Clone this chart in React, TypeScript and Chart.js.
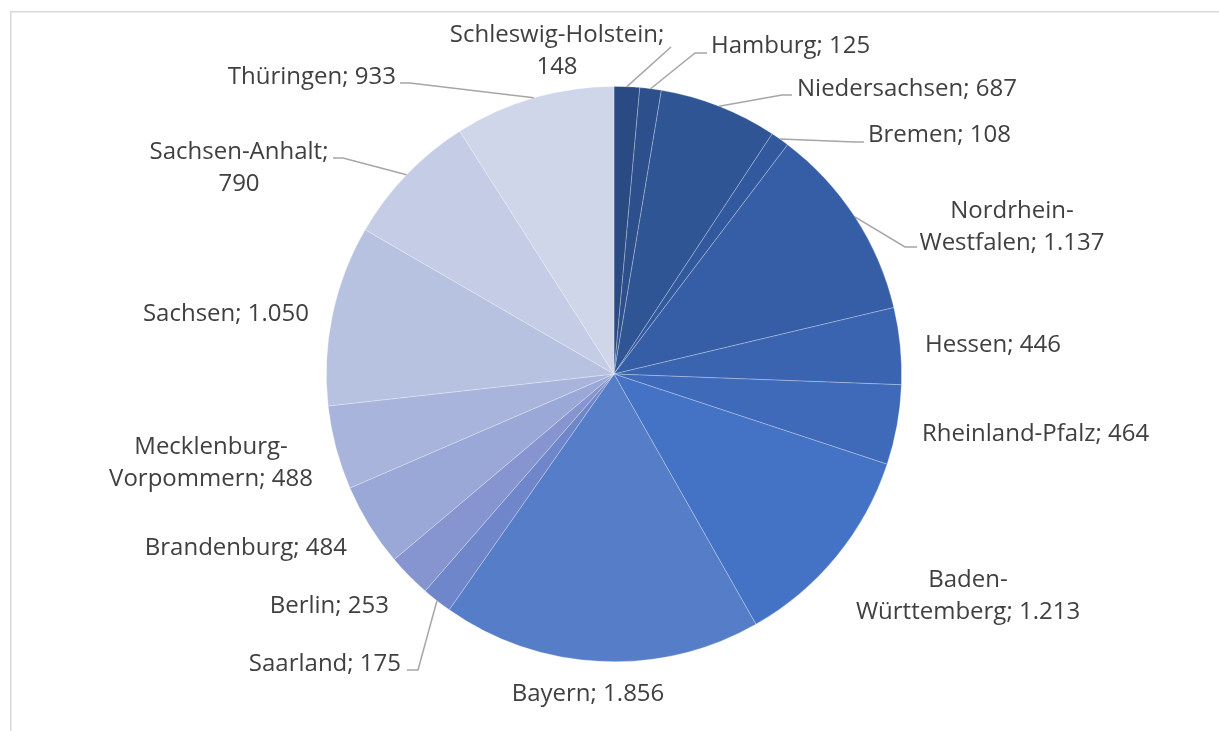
import React, { useEffect, useRef } from 'react';
import { Chart, registerables } from 'chart.js';

Chart.register(...registerables);

const categories = [
  'Schleswig-Holstein', 'Hamburg', 'Niedersachsen', 'Bremen', 'Nordrhein-Westfalen',
  'Hessen', 'Rheinland-Pfalz', 'Baden-Württemberg', 'Bayern', 'Saarland', 'Berlin',
  'Brandenburg', 'Mecklenburg-Vorpommern', 'Sachsen', 'Sachsen-Anhalt', 'Thüringen',
];
const values = [148, 125, 687, 108, 1137, 446, 464, 1213, 1856, 175, 253, 484, 488, 1050, 790, 933];
const colors = [
  '#2a4a84', '#2d4f8c', '#305595', '#32599e', '#365ea7', '#3b64b0', '#3f69b9', '#4472c4',
  '#557dc8', '#6f87ca', '#8695cf', '#9aa8d7', '#a9b4dc', '#b7c2e1', '#c5cce6', '#d0d6ea',
];

type Pt = [number, number];
type LabelLayout = { x: number; y: number; align: CanvasTextAlign; brk?: 'hyphen' | 'semi'; elbow?: Pt[] };

const labelLayout: LabelLayout[] = [
  { x: 557, y: 42, align: 'center', brk: 'semi', elbow: [[671, 47]] },
  { x: 711, y: 53, align: 'left', elbow: [[707, 53], [695, 53]] },
  { x: 797, y: 96, align: 'left', elbow: [[792, 95], [782, 95]] },
  { x: 868, y: 142, align: 'left', elbow: [[864, 142], [855, 142]] },
  { x: 1012, y: 218, align: 'center', brk: 'hyphen', elbow: [[917, 247], [905, 247]] },
  { x: 925, y: 352, align: 'left' },
  { x: 922, y: 441, align: 'left' },
  { x: 968, y: 587, align: 'center', brk: 'hyphen' },
  { x: 588, y: 701, align: 'center' },
  { x: 401, y: 671, align: 'right', elbow: [[407, 670], [418, 670]] },
  { x: 389, y: 613, align: 'right' },
  { x: 347, y: 555, align: 'right' },
  { x: 211, y: 454, align: 'center', brk: 'hyphen' },
  { x: 309, y: 321, align: 'right' },
  { x: 239, y: 159, align: 'center', brk: 'semi', elbow: [[333, 158], [343, 158]] },
  { x: 396, y: 84, align: 'right', elbow: [[400, 83], [410, 83]] },
];

const LINE_HEIGHT = 32;
const FONT = '24px "Open Sans", sans-serif';

function fmt(v: number): string {
  if (v >= 1000) return `${Math.floor(v / 1000)}.${String(v % 1000).padStart(3, '0')}`;
  return String(v);
}

function labelLines(i: number): string[] {
  const name = categories[i];
  const val = fmt(values[i]);
  const brk = labelLayout[i].brk;
  if (brk === 'semi') return [`${name};`, val];
  if (brk === 'hyphen') {
    const k = name.indexOf('-');
    return [name.slice(0, k + 1), `${name.slice(k + 1)}; ${val}`];
  }
  return [`${name}; ${val}`];
}

const framePlugin = {
  id: 'frame',
  beforeDraw(chart: any) {
    const ctx = chart.ctx;
    ctx.save();
    ctx.fillStyle = '#ffffff';
    ctx.fillRect(0, 0, chart.width, chart.height);
    ctx.strokeStyle = '#d9d9d9';
    ctx.lineWidth = 1.5;
    ctx.strokeRect(10.75, 11.75, chart.width + 20, chart.height + 20);
    ctx.restore();
  },
};

const labelPlugin = {
  id: 'pieLabels',
  afterDatasetsDraw(chart: any) {
    const ctx = chart.ctx;
    const meta = chart.getDatasetMeta(0);
    ctx.save();
    meta.data.forEach((arc: any, i: number) => {
      const p = arc.getProps(['x', 'y', 'startAngle', 'endAngle', 'outerRadius'], true);
      const mid = (p.startAngle + p.endAngle) / 2;
      const px = p.x + Math.cos(mid) * p.outerRadius;
      const py = p.y + Math.sin(mid) * p.outerRadius;
      const lay = labelLayout[i];
      if (lay.elbow) {
        ctx.beginPath();
        ctx.strokeStyle = '#a6a6a6';
        ctx.lineWidth = 1.5;
        ctx.moveTo(lay.elbow[0][0], lay.elbow[0][1]);
        for (let k = 1; k < lay.elbow.length; k++) ctx.lineTo(lay.elbow[k][0], lay.elbow[k][1]);
        ctx.lineTo(px, py);
        ctx.stroke();
      }
      ctx.font = FONT;
      ctx.fillStyle = '#404040';
      ctx.textBaseline = 'alphabetic';
      ctx.textAlign = lay.align;
      labelLines(i).forEach((line, j) => {
        ctx.fillText(line, lay.x, lay.y + j * LINE_HEIGHT);
      });
    });
    ctx.restore();
  },
};

export default function App() {
  const ref = useRef<HTMLCanvasElement>(null);
  useEffect(() => {
    if (!ref.current) return;
    const chart = new Chart(ref.current, {
      type: 'pie',
      data: {
        labels: categories,
        datasets: [
          {
            data: values,
            backgroundColor: colors,
            borderColor: 'rgba(255,255,255,0.35)',
            borderWidth: 0.75,
          },
        ],
      },
      options: {
        responsive: false,
        animation: false,
        layout: { padding: { left: 326, right: 317, top: 86, bottom: 69 } },
        plugins: {
          legend: { display: false },
          tooltip: { enabled: false },
        },
      },
      plugins: [framePlugin, labelPlugin],
    });
    return () => chart.destroy();
  }, []);
  return (
    <div style={{ position: 'fixed', left: 0, top: 0, width: 1219, height: 731, background: '#fff' }}>
      <canvas ref={ref} width={1219} height={731} style={{ display: 'block', width: 1219, height: 731 }} />
    </div>
  );
}
